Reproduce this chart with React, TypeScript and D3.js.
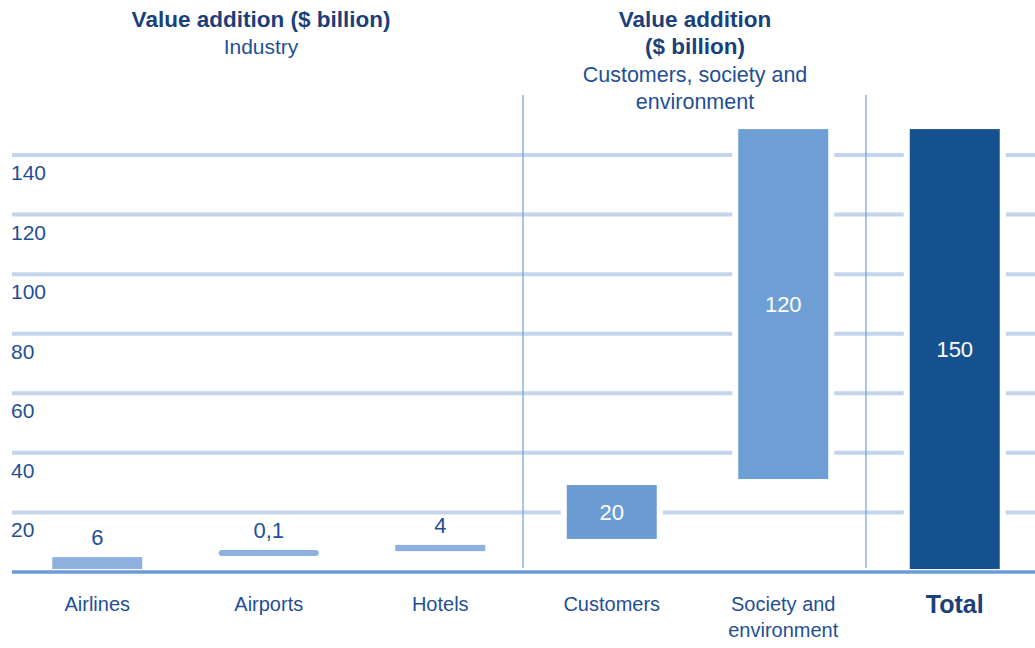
import React from "react";
import * as d3 from "d3";

const categories = ["Airlines", "Airports", "Hotels", "Customers", "Society and environment", "Total"];
const valueLabels = ["6", "0,1", "4", "20", "120", "150"];
// drawn extents (schematic) in axis units
const barStart = [1, 5.4, 7.0, 11.1, 31.2, 1];
const barEnd = [5, 7.4, 9.1, 29.2, 148.7, 148.7];
const barColors = ["#8eb0df", "#8eb0df", "#8eb0df", "#6b9cd4", "#6d9fd5", "#16518f"];
const labelInside = [false, false, false, true, true, true];
const tickValues = [20, 40, 60, 80, 100, 120, 140];

const W = 1035;
const H = 648;
const FONT = "'Liberation Sans', Arial, Helvetica, sans-serif";
const TEXT = "#1f4f95";
const TITLE = "#1b3f7a";

export default function App() {
  const x = d3.scaleBand<string>().domain(categories).range([11.5, 1040.5]).padding(0);
  const y = d3.scaleLinear().domain([0, 140]).range([572, 155]);
  const barW = (i: number) => (i === 1 ? 100 : 90);
  const cx = (c: string) => (x(c) as number) + x.bandwidth() / 2;

  return (
    <svg
      width={W}
      height={H}
      viewBox={`0 0 ${W} ${H}`}
      style={{ position: "absolute", left: 0, top: 0, display: "block", background: "#fff" }}
      fontFamily={FONT}
    >
      {/* gridlines */}
      {tickValues.map((t) => (
        <line key={t} x1={12} x2={W} y1={y(t)} y2={y(t)} stroke="#c3d4ec" strokeWidth={4} />
      ))}
      {/* tick labels */}
      {tickValues.map((t) => (
        <text key={"t" + t} x={11} y={y(t) + 25} fontSize={21} fill={TEXT}>
          {t}
        </text>
      ))}
      {/* white gaps behind tall bars */}
      {categories.map((c, i) =>
        i >= 3 ? (
          <rect
            key={"g" + c}
            x={cx(c) - barW(i) / 2 - 6}
            width={barW(i) + 12}
            y={y(barEnd[i]) - 4}
            height={y(barStart[i]) - y(barEnd[i]) + 8}
            fill="#fff"
          />
        ) : null
      )}
      {/* separators */}
      {[523, 866].map((sx) => (
        <line key={sx} x1={sx} x2={sx} y1={95} y2={568} stroke="#6f9fd6" strokeWidth={1.2} />
      ))}
      {/* baseline */}
      <line x1={12} x2={W} y1={y(0)} y2={y(0)} stroke="#6a9bd4" strokeWidth={3.5} />
      {/* bars */}
      {categories.map((c, i) => (
        <rect
          key={"b" + c}
          x={cx(c) - barW(i) / 2}
          width={barW(i)}
          y={y(barEnd[i])}
          height={y(barStart[i]) - y(barEnd[i])}
          fill={barColors[i]}
          rx={i === 1 ? 3 : 0}
        />
      ))}
      {/* value labels */}
      {categories.map((c, i) =>
        labelInside[i] ? (
          <text
            key={"v" + c}
            x={cx(c)}
            y={(y(barEnd[i]) + y(barStart[i])) / 2}
            dy="0.35em"
            textAnchor="middle"
            fontSize={22}
            fill="#fff"
          >
            {valueLabels[i]}
          </text>
        ) : (
          <text key={"v" + c} x={cx(c)} y={y(barEnd[i]) - 12} textAnchor="middle" fontSize={22} fill={TEXT}>
            {valueLabels[i]}
          </text>
        )
      )}
      {/* category labels */}
      {categories.map((c, i) => {
        if (c === "Total") {
          return (
            <text key={"c" + c} x={cx(c)} y={613} textAnchor="middle" fontSize={25} fontWeight="bold" fill={TITLE}>
              {c}
            </text>
          );
        }
        if (c === "Society and environment") {
          return (
            <text key={"c" + c} x={cx(c)} y={611} textAnchor="middle" fontSize={20} fill={TEXT}>
              <tspan x={cx(c)}>Society and</tspan>
              <tspan x={cx(c)} dy={26}>
                environment
              </tspan>
            </text>
          );
        }
        return (
          <text key={"c" + c} x={cx(c)} y={611} textAnchor="middle" fontSize={20} fill={TEXT}>
            {c}
          </text>
        );
      })}
      {/* titles */}
      <text x={261} y={27} textAnchor="middle" fontSize={22.5} fontWeight="bold" fill={TITLE}>
        Value addition ($ billion)
      </text>
      <text x={261} y={54} textAnchor="middle" fontSize={21} fill={TEXT}>
        Industry
      </text>
      <text x={695} y={27} textAnchor="middle" fontSize={22.5} fontWeight="bold" fill={TITLE}>
        Value addition
      </text>
      <text x={695} y={54} textAnchor="middle" fontSize={22.5} fontWeight="bold" fill={TITLE}>
        ($ billion)
      </text>
      <text x={695} y={82} textAnchor="middle" fontSize={21.5} fill={TEXT}>
        Customers, society and
      </text>
      <text x={695} y={109} textAnchor="middle" fontSize={21.5} fill={TEXT}>
        environment
      </text>
    </svg>
  );
}
